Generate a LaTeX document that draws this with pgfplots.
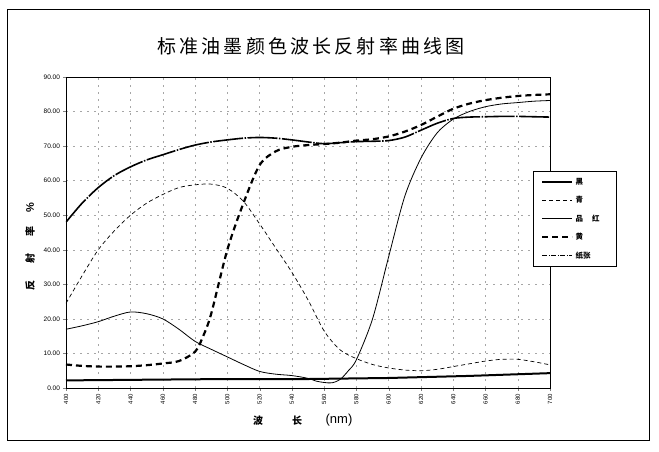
\documentclass[border=0pt]{standalone}
\usepackage{fontspec}
\setmainfont{Liberation Sans}
\newfontfamily\cjk{Noto Sans CJK SC}
\usepackage{pgfplots}
\pgfplotsset{compat=1.18}
\begin{document}
\begin{tikzpicture}[x=1pt,y=1pt]
\useasboundingbox (0,0) rectangle (659,451);
\draw[line width=0.6pt] (7,451-9) rectangle (649,451-440);
\node[font=\cjk\fontsize{19}{22}\selectfont] at (311,451-46) {标\,准\,油\,墨\,颜\,色\,波\,长\,反\,射\,率\,曲\,线\,图};
\node[rotate=90,font=\cjk\bfseries\fontsize{10}{12}\selectfont] at (30,451-247) {反\hspace{17pt}射\hspace{17pt}率\hspace{14pt}{\fontsize{11}{12}\selectfont\rmfamily\%}};
\node[font=\cjk\bfseries\fontsize{10}{12}\selectfont] at (258,451-421) {波};
\node[font=\cjk\bfseries\fontsize{10}{12}\selectfont] at (297,451-421) {长};
\node[font=\fontsize{13}{14}\selectfont] at (339,451-420) {(nm)};
\begin{axis}[
  at={(66pt,63pt)}, anchor=south west,
  width=484pt, height=311pt, scale only axis,
  xmin=400, xmax=700, ymin=0, ymax=90,
  xtick={400,420,...,700}, ytick={0,10,...,90},
  tick pos=left, tick align=outside, major tick length=2.5pt,
  axis line style={line width=0.7pt},
  grid=major,
  major grid style={gray!70, dash pattern=on 2pt off 5pt, line width=0.35pt},
  /pgf/number format/assume math mode=true,
  xticklabel style={rotate=90, anchor=east, font=\fontsize{6}{7}\selectfont, /pgf/number format/.cd, fixed, 1000 sep={}},
  yticklabel style={font=\fontsize{6.5}{7}\selectfont, /pgf/number format/.cd, fixed, fixed zerofill, precision=2},
  legend style={at={(0.965,0.699)}, anchor=north west, draw=black, line width=0.5pt,
     font=\cjk\bfseries\fontsize{7.5}{9}\selectfont, row sep=6.6pt, inner xsep=8pt, inner ysep=5pt, fill=white},
  legend cell align=left,
  legend image code/.code={\draw[#1] (0pt,0pt) -- (30pt,0pt);},
]
% 黑
\addplot[black, line width=2pt] coordinates {
(400,2.2)(450,2.4)(500,2.6)(550,2.6)(600,2.9)(650,3.5)(700,4.3)};
\addlegendentry{\makebox[31pt][l]{黑}}
% 青
\addplot[black, line width=0.7pt, dash pattern=on 4pt off 3pt, smooth] coordinates {
(400,24.5)(410,32.5)(420,40.0)(430,45.5)(440,50.0)(450,53.5)(460,56.0)(470,58.0)(480,58.8)(490,59.0)
(500,57.8)(510,54.0)(520,47.5)(530,40.5)(540,33.5)(550,25.5)(560,16.5)(570,11.0)(580,8.5)(590,6.8)
(600,5.8)(610,5.2)(620,5.0)(630,5.4)(640,6.2)(650,7.0)(660,7.8)(670,8.3)(680,8.3)(690,7.6)(700,6.7)};
\addlegendentry{\makebox[31pt][l]{青}}
% 品红
\addplot[black, line width=0.8pt, smooth] coordinates {
(400,17.0)(410,18.0)(420,19.2)(430,20.8)(440,22.0)(450,21.5)(460,20.0)(470,17.0)(480,13.5)(490,11.2)
(500,9.0)(510,6.8)(520,4.8)(530,4.0)(540,3.6)(550,2.8)(555,2.0)(560,1.6)(565,1.5)(570,2.5)(575,5.0)
(580,8.2)(590,20.0)(600,38.0)(610,55.5)(620,66.5)(630,73.8)(640,77.8)(650,80.0)(660,81.4)(670,82.2)
(680,82.6)(690,83.0)(700,83.2)};
\addlegendentry{\makebox[31pt][l]{品\hspace{9pt}红}}
% 黄
\addplot[black, line width=2.2pt, dash pattern=on 6pt off 4pt, smooth] coordinates {
(400,6.8)(410,6.4)(420,6.2)(430,6.2)(440,6.3)(450,6.6)(460,7.1)(470,7.8)(480,10.5)(485,15.0)(490,21.5)
(500,40.0)(510,53.5)(520,64.5)(530,68.5)(540,69.8)(550,70.3)(560,70.6)(570,71.0)(580,71.6)(590,72.0)
(600,72.8)(610,74.2)(620,76.1)(630,78.5)(640,80.8)(650,82.3)(660,83.3)(670,84.0)(680,84.5)(690,84.8)(700,85.0)};
\addlegendentry{\makebox[31pt][l]{黄}}
% 纸张
\addplot[black, line width=1.6pt, dash pattern=on 30pt off 1.5pt on 1.5pt off 1.5pt, smooth, forget plot] coordinates {
(400,48.0)(410,53.5)(420,58.0)(430,61.5)(440,64.0)(450,66.0)(460,67.5)(470,69.0)(480,70.3)(490,71.2)
(500,71.8)(510,72.3)(520,72.5)(530,72.3)(540,71.8)(550,71.2)(560,70.7)(570,71.0)(580,71.3)(590,71.4)
(600,71.6)(610,72.6)(620,74.6)(630,76.6)(640,78.0)(650,78.4)(660,78.5)(670,78.6)(680,78.6)(690,78.5)(700,78.4)};
\addlegendimage{black, line width=0.9pt, dash pattern=on 5pt off 1.5pt on 1pt off 1.5pt}
\addlegendentry{\makebox[31pt][l]{纸张}}
\end{axis}
\end{tikzpicture}
\end{document}
